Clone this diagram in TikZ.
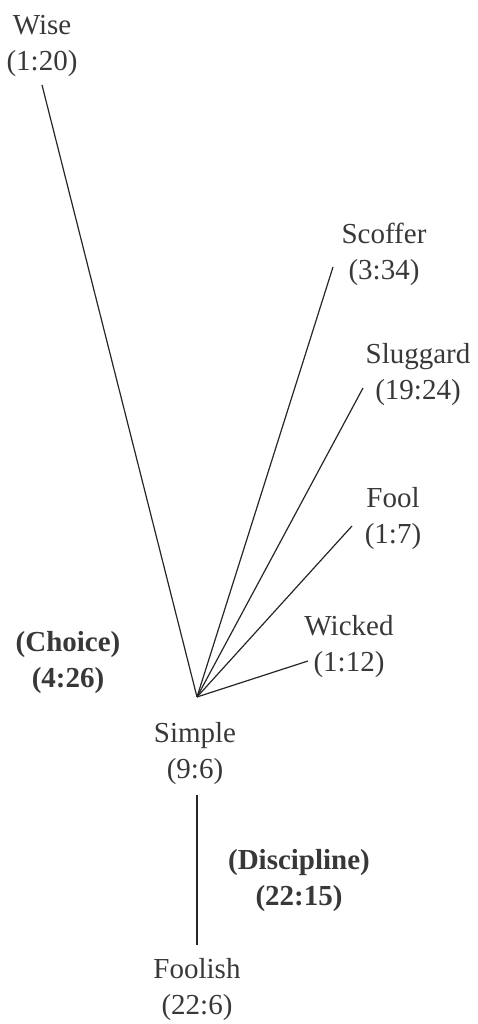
\documentclass[tikz,border=0pt]{standalone}
\usepackage{fontspec}
\setmainfont{Liberation Serif}
\begin{document}
\begin{tikzpicture}[x=1pt,y=1pt,
  label/.style={inner sep=0pt, align=center, text=black!78,
    font=\fontsize{29}{36}\selectfont},
  boldlabel/.style={label, font=\fontsize{29}{36}\selectfont\bfseries},
  branch/.style={draw=black!85, line width=1.2pt},
  stem/.style={draw=black!85, line width=2pt}]
\useasboundingbox (0,0) rectangle (477,1024);

% terms and their verses
\node[label] (wise)     at (42,977.5)  {Wise\\(1:20)};
\node[label] (scoffer)  at (384,770)   {Scoffer\\(3:34)};
\node[label] (sluggard) at (418,649)   {Sluggard\\(19:24)};
\node[label] (fool)     at (393,505)   {Fool\\(1:7)};
\node[label] (wicked)   at (349,377.5) {Wicked\\(1:12)};
\node[boldlabel] (choice) at (68,361.5) {(Choice)\\(4:26)};
\node[label] (simple)   at (195,270.5) {Simple\\(9:6)};
\node[boldlabel] (discipline) at (299,143) {(Discipline)\\(22:15)};
\node[label] (foolish)  at (197,34)    {Foolish\\(22:6)};

% meeting point of the branches and their free ends
\coordinate (hub) at (197,327);
\coordinate (wiseEnd)     at (42,939);
\coordinate (scofferEnd)  at (333,757);
\coordinate (sluggardEnd) at (363,636);
\coordinate (foolEnd)     at (352,498);
\coordinate (wickedEnd)   at (308,363);
\coordinate (stemTop)     at (197,229);
\coordinate (stemBottom)  at (197,79);

\draw[branch] (hub) -- (wiseEnd);
\draw[branch] (hub) -- (scofferEnd);
\draw[branch] (hub) -- (sluggardEnd);
\draw[branch] (hub) -- (foolEnd);
\draw[branch] (hub) -- (wickedEnd);
\draw[stem] (stemTop) -- (stemBottom);
\end{tikzpicture}
\end{document}
